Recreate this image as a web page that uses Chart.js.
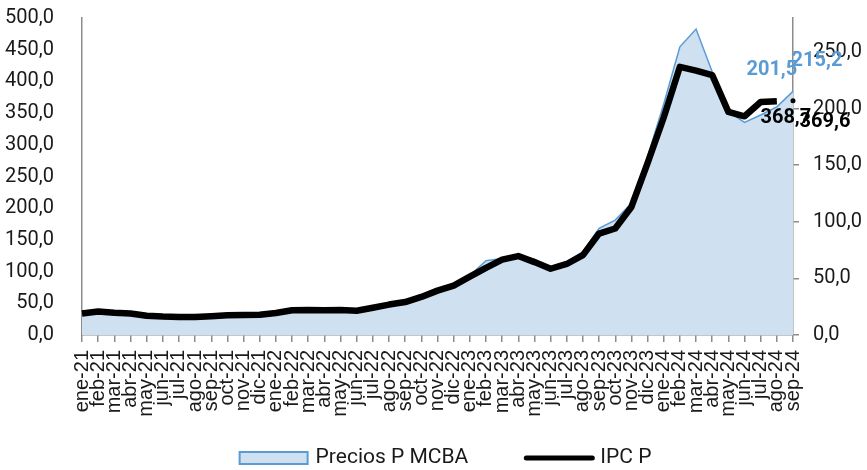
<!DOCTYPE html>
<html>
<head>
<meta charset="utf-8">
<script src="https://cdn.jsdelivr.net/npm/chart.js@4/dist/chart.umd.min.js"></script>
<style>
	html, body { margin: 0; padding: 0; background: #fff; }
	#wrap { width: 867px; height: 470px; }
</style>
</head>
<body>
<div id="wrap"><canvas id="chart" width="867" height="470"></canvas></div>
<script>

// ---- Data
const months = [
	'ene-21', 'feb-21', 'mar-21', 'abr-21', 'may-21', 'jun-21', 'jul-21', 'ago-21', 'sep-21', 'oct-21', 'nov-21', 'dic-21',
	'ene-22', 'feb-22', 'mar-22', 'abr-22', 'may-22', 'jun-22', 'jul-22', 'ago-22', 'sep-22', 'oct-22', 'nov-22', 'dic-22',
	'ene-23', 'feb-23', 'mar-23', 'abr-23', 'may-23', 'jun-23', 'jul-23', 'ago-23', 'sep-23', 'oct-23', 'nov-23', 'dic-23',
	'ene-24', 'feb-24', 'mar-24', 'abr-24', 'may-24', 'jun-24', 'jul-24', 'ago-24', 'sep-24'
];

// Precios P MCBA (right axis)
const preciosMcba = [
	19.0, 20.7, 19.6, 18.6, 16.6, 15.9, 15.7, 15.8, 16.4, 17.3, 17.6, 17.9,
	19.4, 21.8, 22.1, 21.8, 22.0, 21.4, 24.0, 26.9, 29.1, 33.6, 39.2, 43.7,
	52.5, 65.6, 67.5, 70.0, 67.0, 58.5, 64.7, 73.6, 94.2, 101.5, 116.3, 157.4,
	204.0, 254.6, 270.2, 232.5, 197.2, 187.7, 194.3, 201.5, 215.2
];

// IPC P (left axis)
const ipcP = [
	34, 37, 35, 34, 30.5, 29, 28.4, 28.4, 29.5, 31, 31.5, 32,
	34.7, 39, 39.4, 39, 39.4, 38.3, 43, 48, 52, 60, 70, 78,
	92, 106, 119, 124.5, 115, 104.5, 112, 126, 160, 168, 202, 271,
	343, 423, 417, 410, 352, 345, 367.5, 368.7, 369.6
];

const leftTicks = { min: 0, max: 500, step: 50 };
const rightTicks = { min: 0, max: 280, step: 50 };

// labels shown on the last points: [dataset, index, dx, dy]
const pointLabels = [
	[ 0, 43, -5, -37 ],
	[ 0, 44, 24, -30 ],
	[ 1, 43, 9, 17 ],
	[ 1, 44, 32, 21 ]
];

const BLUE = '#5b9bd5';
const BLUE_FILL = '#cfe0f1';
const AXIS = '#8c8c8c';
const lastIdx = months.length - 1;

const fmt = ( v ) => Number( v ).toFixed( 1 ).replace( '.', ',' );

// ---- Value labels next to the last points
const valueLabels = {
	id: 'valueLabels',
	afterDatasetsDraw( chart ) {
		const ctx = chart.ctx;
		ctx.save();
		ctx.font = 'bold 20px Roboto';
		ctx.textAlign = 'center';
		ctx.textBaseline = 'middle';
		pointLabels.forEach( ( [ ds, i, dx, dy ] ) => {
			const pt = chart.getDatasetMeta( ds ).data[ i ];
			const val = chart.data.datasets[ ds ].data[ i ];
			ctx.fillStyle = ds === 0 ? BLUE : '#000';
			ctx.fillText( fmt( val ), pt.x + dx, pt.y + dy );
		} );
		ctx.restore();
	}
};

// ---- Legend at the bottom
const bottomLegend = {
	id: 'bottomLegend',
	afterDraw( chart ) {
		const ctx = chart.ctx;
		const ds = chart.data.datasets;
		ctx.save();
		ctx.font = '21px Roboto';
		ctx.textBaseline = 'middle';
		const y = chart.height - 12;
		const w1 = 68 + 8 + ctx.measureText( ds[ 0 ].label ).width;
		const w2 = 70 + 6 + ctx.measureText( ds[ 1 ].label ).width;
		const gap = 56;
		let x = chart.width / 2 + 12 - ( w1 + gap + w2 ) / 2;

		ctx.fillStyle = BLUE_FILL;
		ctx.fillRect( x, y - 6, 68, 12 );
		ctx.strokeStyle = BLUE;
		ctx.lineWidth = 2;
		ctx.strokeRect( x, y - 6, 68, 12 );
		ctx.fillStyle = '#1a1a1a';
		ctx.fillText( ds[ 0 ].label, x + 76, y );

		x += w1 + gap;
		ctx.strokeStyle = '#000';
		ctx.lineWidth = 5;
		ctx.lineCap = 'round';
		ctx.beginPath();
		ctx.moveTo( x + 2, y );
		ctx.lineTo( x + 68, y );
		ctx.stroke();
		ctx.fillText( ds[ 1 ].label, x + 76, y );
		ctx.restore();
	}
};

// value axes: fixed width, no extra padding above the top tick
const fixAxis = ( width ) => ( s ) => {
	s.width = width;
	s.paddingTop = 0;
	s.paddingBottom = 0;
};

const ctx = document.getElementById( 'chart' ).getContext( '2d' );

new Chart( ctx, {
	type: 'line',
	data: {
		labels: months,
		datasets: [
			{
				label: 'Precios P MCBA',
				data: preciosMcba,
				yAxisID: 'y2',
				fill: 'origin',
				backgroundColor: BLUE_FILL,
				borderColor: BLUE,
				borderWidth: 1.5,
				pointRadius: 0,
				tension: 0,
				order: 2
			},
			{
				label: 'IPC P',
				data: ipcP,
				yAxisID: 'y',
				fill: false,
				borderColor: '#000',
				borderWidth: 6.5,
				borderJoinStyle: 'round',
				pointRadius: ( c ) => c.dataIndex === lastIdx ? 2.5 : 0,
				pointBackgroundColor: '#000',
				pointBorderWidth: 0,
				segment: {
					borderColor: ( c ) => c.p1DataIndex === lastIdx ? 'rgba(0,0,0,0)' : '#000'
				},
				tension: 0,
				order: 1
			}
		]
	},
	options: {
		responsive: false,
		animation: false,
		devicePixelRatio: 1,
		layout: { padding: { top: 18, bottom: 45, left: 0, right: 0 } },
		plugins: {
			legend: { display: false },
			tooltip: { enabled: false }
		},
		scales: {
			x: {
				offset: false,
				grid: {
					display: true,
					drawOnChartArea: false,
					drawTicks: true,
					tickLength: 7,
					color: AXIS,
					lineWidth: 1.5
				},
				border: { display: true, color: AXIS, width: 1.5 },
				ticks: {
					autoSkip: false,
					maxRotation: 90,
					minRotation: 90,
					padding: 8,
					color: '#1a1a1a',
					font: { family: '"Liberation Sans", Arial, sans-serif', size: 20 }
				},
				afterFit: ( s ) => { s.height = 90; }
			},
			y: {
				position: 'left',
				min: leftTicks.min,
				max: leftTicks.max,
				grid: { display: false },
				border: { display: true, color: AXIS, width: 1.5 },
				ticks: {
					stepSize: leftTicks.step,
					padding: 20,
					color: '#1a1a1a',
					font: { family: 'Roboto', size: 20 },
					callback: ( v ) => fmt( v )
				},
				afterFit: fixAxis( 82 )
			},
			y2: {
				position: 'right',
				min: rightTicks.min,
				max: rightTicks.max,
				grid: {
					display: true,
					drawOnChartArea: false,
					drawTicks: true,
					tickLength: 6,
					color: AXIS,
					lineWidth: 1.5
				},
				border: { display: true, color: AXIS, width: 1.5 },
				ticks: {
					stepSize: rightTicks.step,
					padding: 14,
					color: '#1a1a1a',
					font: { family: 'Roboto', size: 20 },
					callback: ( v ) => fmt( v )
				},
				afterBuildTicks: ( s ) => {
					s.ticks = s.ticks.filter( ( t ) => t.value % rightTicks.step === 0 );
				},
				afterFit: fixAxis( 74 )
			}
		}
	},
	plugins: [ valueLabels, bottomLegend ]
} );

</script>
</body>
</html>
